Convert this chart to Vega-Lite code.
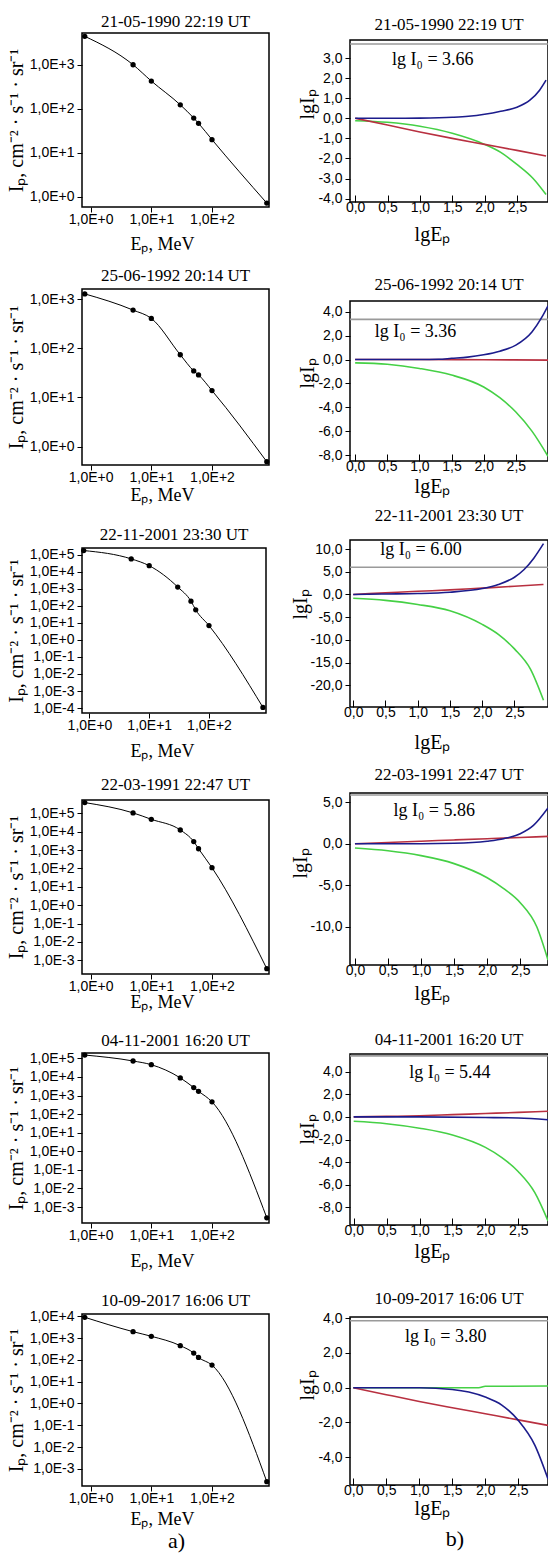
{
  "$schema": "https://vega.github.io/schema/vega-lite/v6.json",
  "padding": {"left": 5, "top": 0, "right": 0, "bottom": 0},
  "background": "white",
  "config": {
    "view": {"stroke": "black", "strokeWidth": 1.5},
    "axis": {"grid": false, "domain": false, "tickColor": "black", "labelFont": "Liberation Sans", "labelFontSize": 14, "labelColor": "black", "titleFont": "Liberation Serif", "titleFontWeight": "normal", "titleColor": "black", "titleFontSize": 18, "tickSize": 5, "labelPadding": 0, "labelOverlap": false, "labelFlush": false},
    "title": {"font": "Liberation Serif", "fontSize": 17, "fontWeight": "normal", "color": "black", "offset": 1},
    "concat": {"spacing": 10}
  },
  "datasets": {
    "D": [{"t": ""}],
    "L1": [{"E":0.8,"I":4416},{"E":5,"I":1000},{"E":10,"I":426.6},{"E":30,"I":123},{"E":50,"I":61.7},{"E":60,"I":46.8},{"E":100,"I":19.95},{"E":800,"I":0.724}],
    "L2": [{"E":0.8,"I":1288},{"E":5,"I":602.6},{"E":10,"I":407.4},{"E":30,"I":74.1},{"E":50,"I":34.7},{"E":60,"I":28.8},{"E":100,"I":13.8},{"E":800,"I":0.49}],
    "L3": [{"E":0.8,"I":173800},{"E":5,"I":56230},{"E":10,"I":22390},{"E":30,"I":1259},{"E":50,"I":186.2},{"E":60,"I":57.5},{"E":100,"I":6.92},{"E":800,"I":0.0001096}],
    "L4": [{"E":0.8,"I":380200},{"E":5,"I":104700},{"E":10,"I":46770},{"E":30,"I":12300},{"E":50,"I":2884},{"E":60,"I":1175},{"E":100,"I":109.6},{"E":800,"I":0.000355}],
    "L5": [{"E":0.8,"I":151400},{"E":5,"I":72440},{"E":10,"I":45710},{"E":30,"I":8913},{"E":50,"I":2692},{"E":60,"I":1698},{"E":100,"I":457.1},{"E":800,"I":0.000263}],
    "L6": [{"E":0.8,"I":8913},{"E":5,"I":1950},{"E":10,"I":1202},{"E":30,"I":446.7},{"E":50,"I":204.2},{"E":60,"I":128.8},{"E":100,"I":57.5},{"E":800,"I":0.000263}],
    "LA": [{"E":26,"I":5e-7,"label":"a)"}],
    "R1": [
      {"x":-0.08,"y":3.7,"c":"gray"},{"x":2.98,"y":3.7,"c":"gray"},
      {"x":0,"y":-0.12,"c":"green"},{"x":0.5,"y":-0.2,"c":"green"},{"x":1,"y":-0.4,"c":"green"},{"x":1.5,"y":-0.75,"c":"green"},{"x":2,"y":-1.3,"c":"green"},{"x":2.25,"y":-1.7,"c":"green"},{"x":2.5,"y":-2.3,"c":"green"},{"x":2.75,"y":-3.0,"c":"green"},{"x":2.95,"y":-3.8,"c":"green"},
      {"x":0,"y":0,"c":"red"},{"x":0.5,"y":-0.33,"c":"red"},{"x":1,"y":-0.68,"c":"red"},{"x":1.5,"y":-1.0,"c":"red"},{"x":2,"y":-1.3,"c":"red"},{"x":2.5,"y":-1.6,"c":"red"},{"x":2.95,"y":-1.88,"c":"red"},
      {"x":0,"y":0,"c":"blue"},{"x":0.5,"y":0,"c":"blue"},{"x":1,"y":0.01,"c":"blue"},{"x":1.5,"y":0.05,"c":"blue"},{"x":1.75,"y":0.1,"c":"blue"},{"x":2,"y":0.2,"c":"blue"},{"x":2.25,"y":0.35,"c":"blue"},{"x":2.5,"y":0.55,"c":"blue"},{"x":2.7,"y":0.9,"c":"blue"},{"x":2.85,"y":1.4,"c":"blue"},{"x":2.95,"y":1.9,"c":"blue"}
    ],
    "R2": [
      {"x":-0.08,"y":3.36,"c":"gray"},{"x":3.0,"y":3.36,"c":"gray"},
      {"x":0,"y":-0.28,"c":"green"},{"x":0.5,"y":-0.4,"c":"green"},{"x":1,"y":-0.75,"c":"green"},{"x":1.5,"y":-1.3,"c":"green"},{"x":2,"y":-2.3,"c":"green"},{"x":2.25,"y":-3.2,"c":"green"},{"x":2.5,"y":-4.4,"c":"green"},{"x":2.75,"y":-6.0,"c":"green"},{"x":3.0,"y":-8.1,"c":"green"},
      {"x":0,"y":0,"c":"red"},{"x":1,"y":0,"c":"red"},{"x":2,"y":-0.02,"c":"red"},{"x":3,"y":-0.05,"c":"red"},
      {"x":0,"y":0,"c":"blue"},{"x":0.5,"y":0,"c":"blue"},{"x":1,"y":0,"c":"blue"},{"x":1.3,"y":0.02,"c":"blue"},{"x":1.5,"y":0.1,"c":"blue"},{"x":1.75,"y":0.2,"c":"blue"},{"x":2,"y":0.4,"c":"blue"},{"x":2.25,"y":0.7,"c":"blue"},{"x":2.5,"y":1.2,"c":"blue"},{"x":2.75,"y":2.3,"c":"blue"},{"x":2.9,"y":3.5,"c":"blue"},{"x":3.0,"y":4.5,"c":"blue"}
    ],
    "R3": [
      {"x":-0.05,"y":6.0,"c":"gray"},{"x":3.02,"y":6.0,"c":"gray"},
      {"x":0,"y":-0.85,"c":"green"},{"x":0.5,"y":-1.3,"c":"green"},{"x":1,"y":-2.2,"c":"green"},{"x":1.5,"y":-3.6,"c":"green"},{"x":2,"y":-6.6,"c":"green"},{"x":2.25,"y":-8.8,"c":"green"},{"x":2.5,"y":-12,"c":"green"},{"x":2.75,"y":-16.5,"c":"green"},{"x":2.95,"y":-23.3,"c":"green"},
      {"x":0,"y":0,"c":"red"},{"x":0.5,"y":0.35,"c":"red"},{"x":1,"y":0.7,"c":"red"},{"x":1.5,"y":1.0,"c":"red"},{"x":2,"y":1.4,"c":"red"},{"x":2.5,"y":1.8,"c":"red"},{"x":2.95,"y":2.2,"c":"red"},
      {"x":0,"y":0,"c":"blue"},{"x":0.5,"y":0.1,"c":"blue"},{"x":1,"y":0.2,"c":"blue"},{"x":1.5,"y":0.5,"c":"blue"},{"x":2,"y":1.3,"c":"blue"},{"x":2.25,"y":2.2,"c":"blue"},{"x":2.5,"y":3.8,"c":"blue"},{"x":2.65,"y":5.5,"c":"blue"},{"x":2.8,"y":8.0,"c":"blue"},{"x":2.95,"y":11.2,"c":"blue"}
    ],
    "R4": [
      {"x":-0.075,"y":5.86,"c":"gray"},{"x":2.92,"y":5.86,"c":"gray"},
      {"x":0,"y":-0.52,"c":"green"},{"x":0.5,"y":-0.85,"c":"green"},{"x":1,"y":-1.44,"c":"green"},{"x":1.5,"y":-2.4,"c":"green"},{"x":2,"y":-4.1,"c":"green"},{"x":2.25,"y":-5.4,"c":"green"},{"x":2.5,"y":-7.1,"c":"green"},{"x":2.75,"y":-10.0,"c":"green"},{"x":2.92,"y":-14.0,"c":"green"},
      {"x":0,"y":0,"c":"red"},{"x":0.5,"y":0.15,"c":"red"},{"x":1,"y":0.3,"c":"red"},{"x":1.5,"y":0.45,"c":"red"},{"x":2,"y":0.6,"c":"red"},{"x":2.5,"y":0.75,"c":"red"},{"x":2.92,"y":0.88,"c":"red"},
      {"x":0,"y":0,"c":"blue"},{"x":1,"y":0,"c":"blue"},{"x":1.5,"y":0.05,"c":"blue"},{"x":2,"y":0.3,"c":"blue"},{"x":2.25,"y":0.6,"c":"blue"},{"x":2.5,"y":1.2,"c":"blue"},{"x":2.7,"y":2.2,"c":"blue"},{"x":2.92,"y":4.3,"c":"blue"}
    ],
    "R5": [
      {"x":-0.056,"y":5.4,"c":"gray"},{"x":2.95,"y":5.4,"c":"gray"},
      {"x":0,"y":-0.39,"c":"green"},{"x":0.5,"y":-0.6,"c":"green"},{"x":1,"y":-1.0,"c":"green"},{"x":1.5,"y":-1.6,"c":"green"},{"x":2,"y":-2.7,"c":"green"},{"x":2.25,"y":-3.6,"c":"green"},{"x":2.5,"y":-4.85,"c":"green"},{"x":2.75,"y":-6.7,"c":"green"},{"x":2.95,"y":-9.2,"c":"green"},
      {"x":0,"y":0,"c":"red"},{"x":0.5,"y":0.05,"c":"red"},{"x":1,"y":0.1,"c":"red"},{"x":1.5,"y":0.2,"c":"red"},{"x":2,"y":0.3,"c":"red"},{"x":2.5,"y":0.4,"c":"red"},{"x":2.95,"y":0.5,"c":"red"},
      {"x":0,"y":0,"c":"blue"},{"x":1,"y":0,"c":"blue"},{"x":2,"y":-0.05,"c":"blue"},{"x":2.5,"y":-0.1,"c":"blue"},{"x":2.95,"y":-0.25,"c":"blue"}
    ],
    "R6": [
      {"x":-0.05,"y":3.85,"c":"gray"},{"x":2.95,"y":3.85,"c":"gray"},
      {"x":0,"y":0,"c":"green"},{"x":1,"y":0,"c":"green"},{"x":1.9,"y":0,"c":"green"},{"x":2,"y":0.08,"c":"green"},{"x":2.95,"y":0.1,"c":"green"},
      {"x":0,"y":0,"c":"red"},{"x":0.5,"y":-0.4,"c":"red"},{"x":1,"y":-0.79,"c":"red"},{"x":1.5,"y":-1.15,"c":"red"},{"x":2,"y":-1.5,"c":"red"},{"x":2.5,"y":-1.85,"c":"red"},{"x":2.95,"y":-2.17,"c":"red"},
      {"x":0,"y":0,"c":"blue"},{"x":1,"y":0,"c":"blue"},{"x":1.5,"y":-0.1,"c":"blue"},{"x":1.75,"y":-0.25,"c":"blue"},{"x":2,"y":-0.54,"c":"blue"},{"x":2.25,"y":-1.0,"c":"blue"},{"x":2.5,"y":-1.88,"c":"blue"},{"x":2.75,"y":-3.3,"c":"blue"},{"x":2.95,"y":-5.25,"c":"blue"}
    ],
    "T1": [{"x":1.2,"y":2.9,"label":"lg I₀ = 3.66"}],
    "T2": [{"x":0.94,"y":2.3,"label":"lg I₀ = 3.36"}],
    "T3": [{"x":1.05,"y":9.8,"label":"lg I₀ = 6.00"}],
    "T4": [{"x":1.2,"y":3.9,"label":"lg I₀ = 5.86"}],
    "T5": [{"x":1.46,"y":3.9,"label":"lg I₀ = 5.44"}],
    "T6": [{"x":1.4,"y":2.9,"label":"lg I₀ = 3.80"}],
    "TB": [{"x":1.54,"y":-8.7,"label":"b)"}]
  },
  "concat": [
    {
      "spacing": 0,
      "vconcat": [
        {"width": 187, "height": 1, "view": {"stroke": null}, "data": {"name": "D"}, "mark": {"type": "text"}, "encoding": {"text": {"field": "t"}}},
        {
          "spacing": 12,
          "vconcat": [
            {
              "width": 187, "height": 174,
              "title": {"text": "21-05-1990   22:19 UT", "offset": 2},
              "data": {"name": "L1"},
              "encoding": {
                "x": {"field": "E", "type": "quantitative", "scale": {"type": "log", "domain": [0.72, 870]}, "axis": {"values": [1, 10, 100], "labelExpr": "'1,0E+' + round(log(datum.value)/LN10)", "title": "Eₚ,  MeV", "titlePadding": 9, "titleX": 80}},
                "y": {"field": "I", "type": "quantitative", "scale": {"type": "log", "domain": [0.59, 5250]}, "axis": {"values": [1, 10, 100, 1000], "labelExpr": "'1,0E' + (round(log(datum.value)/LN10) >= 0 ? '+' : '') + round(log(datum.value)/LN10)", "title": "Iₚ,  cm⁻² · s⁻¹ · sr⁻¹", "titleFontSize": 20, "titlePadding": 3, "labelPadding": 3}}
              },
              "layer": [
                {"mark": {"type": "line", "color": "black", "strokeWidth": 1, "interpolate": "monotone"}},
                {"mark": {"type": "point", "filled": true, "color": "black", "size": 28, "opacity": 1}}
              ]
            },
            {
              "spacing": 19,
              "vconcat": [
                {
                  "width": 187, "height": 176,
                  "title": {"text": "25-06-1992   20:14 UT", "offset": 4},
                  "data": {"name": "L2"},
                  "encoding": {
                    "x": {"field": "E", "type": "quantitative", "scale": {"type": "log", "domain": [0.72, 870]}, "axis": {"values": [1, 10, 100], "labelExpr": "'1,0E+' + round(log(datum.value)/LN10)", "title": "Eₚ,  MeV", "titlePadding": 2, "titleX": 80}},
                    "y": {"field": "I", "type": "quantitative", "scale": {"type": "log", "domain": [0.42, 1620]}, "axis": {"values": [1, 10, 100, 1000], "labelExpr": "'1,0E' + (round(log(datum.value)/LN10) >= 0 ? '+' : '') + round(log(datum.value)/LN10)", "title": "Iₚ,  cm⁻² · s⁻¹ · sr⁻¹", "titleFontSize": 20, "titlePadding": 3, "labelPadding": 3}}
                  },
                  "layer": [
                    {"mark": {"type": "line", "color": "black", "strokeWidth": 1, "interpolate": "monotone"}},
                    {"mark": {"type": "point", "filled": true, "color": "black", "size": 28, "opacity": 1}}
                  ]
                },
                {
                  "spacing": 14,
                  "vconcat": [
                    {
                      "width": 184, "height": 165,
                      "title": {"text": "22-11-2001   23:30 UT", "offset": 4},
                      "data": {"name": "L3"},
                      "encoding": {
                        "x": {"field": "E", "type": "quantitative", "scale": {"type": "log", "domain": [0.75, 900]}, "axis": {"values": [1, 10, 100], "labelExpr": "'1,0E+' + round(log(datum.value)/LN10)", "title": "Eₚ,  MeV", "titlePadding": 10, "titleX": 80}},
                        "y": {"field": "I", "type": "quantitative", "scale": {"type": "log", "domain": [0.0000513, 245000]}, "axis": {"values": [0.0001, 0.001, 0.01, 0.1, 1, 10, 100, 1000, 10000, 100000], "labelExpr": "'1,0E' + (round(log(datum.value)/LN10) >= 0 ? '+' : '') + round(log(datum.value)/LN10)", "title": "Iₚ,  cm⁻² · s⁻¹ · sr⁻¹", "titleFontSize": 20, "titlePadding": 3, "labelPadding": 3}}
                      },
                      "layer": [
                        {"mark": {"type": "line", "color": "black", "strokeWidth": 1, "interpolate": "monotone"}},
                        {"mark": {"type": "point", "filled": true, "color": "black", "size": 28, "opacity": 1}}
                      ]
                    },
                    {
                      "spacing": 19,
                      "vconcat": [
                        {
                          "width": 187, "height": 174,
                          "title": {"text": "22-03-1991   22:47 UT", "offset": 6},
                          "data": {"name": "L4"},
                          "encoding": {
                            "x": {"field": "E", "type": "quantitative", "scale": {"type": "log", "domain": [0.72, 870]}, "axis": {"values": [1, 10, 100], "labelExpr": "'1,0E+' + round(log(datum.value)/LN10)", "title": "Eₚ,  MeV", "titlePadding": 0, "titleX": 80}},
                            "y": {"field": "I", "type": "quantitative", "scale": {"type": "log", "domain": [0.000182, 525000]}, "axis": {"values": [0.001, 0.01, 0.1, 1, 10, 100, 1000, 10000, 100000], "labelExpr": "'1,0E' + (round(log(datum.value)/LN10) >= 0 ? '+' : '') + round(log(datum.value)/LN10)", "title": "Iₚ,  cm⁻² · s⁻¹ · sr⁻¹", "titleFontSize": 20, "titlePadding": 3, "labelPadding": 3}}
                          },
                          "layer": [
                            {"mark": {"type": "line", "color": "black", "strokeWidth": 1, "interpolate": "monotone"}},
                            {"mark": {"type": "point", "filled": true, "color": "black", "size": 28, "opacity": 1}}
                          ]
                        },
                        {
                          "spacing": 20,
                          "vconcat": [
                            {
                              "width": 187, "height": 170,
                              "title": {"text": "04-11-2001   16:20 UT", "offset": 1},
                              "data": {"name": "L5"},
                              "encoding": {
                                "x": {"field": "E", "type": "quantitative", "scale": {"type": "log", "domain": [0.72, 870]}, "axis": {"values": [1, 10, 100], "labelExpr": "'1,0E+' + round(log(datum.value)/LN10)", "title": "Eₚ,  MeV", "titlePadding": 10, "titleX": 80}},
                                "y": {"field": "I", "type": "quantitative", "scale": {"type": "log", "domain": [0.000138, 195000]}, "axis": {"values": [0.001, 0.01, 0.1, 1, 10, 100, 1000, 10000, 100000], "labelExpr": "'1,0E' + (round(log(datum.value)/LN10) >= 0 ? '+' : '') + round(log(datum.value)/LN10)", "title": "Iₚ,  cm⁻² · s⁻¹ · sr⁻¹", "titleFontSize": 20, "titlePadding": 3, "labelPadding": 3}}
                              },
                              "layer": [
                                {"mark": {"type": "line", "color": "black", "strokeWidth": 1, "interpolate": "monotone"}},
                                {"mark": {"type": "point", "filled": true, "color": "black", "size": 28, "opacity": 1}}
                              ]
                            },
                            {
                              "width": 187, "height": 172,
                              "title": {"text": "10-09-2017   16:06 UT", "offset": -1},
                              "encoding": {
                                "x": {"field": "E", "type": "quantitative", "scale": {"type": "log", "domain": [0.72, 870]}, "axis": {"values": [1, 10, 100], "labelExpr": "'1,0E+' + round(log(datum.value)/LN10)", "title": "Eₚ,  MeV", "titlePadding": 5, "titleX": 80}},
                                "y": {"field": "I", "type": "quantitative", "scale": {"type": "log", "domain": [0.000166, 12600]}, "axis": {"values": [0.001, 0.01, 0.1, 1, 10, 100, 1000, 10000], "labelExpr": "'1,0E' + (round(log(datum.value)/LN10) >= 0 ? '+' : '') + round(log(datum.value)/LN10)", "title": "Iₚ,  cm⁻² · s⁻¹ · sr⁻¹", "titleFontSize": 20, "titlePadding": 3, "labelPadding": 3}}
                              },
                              "layer": [
                                {"data": {"name": "L6"}, "mark": {"type": "line", "color": "black", "strokeWidth": 1, "interpolate": "monotone"}},
                                {"data": {"name": "L6"}, "mark": {"type": "point", "filled": true, "color": "black", "size": 28, "opacity": 1}},
                                {"data": {"name": "LA"}, "mark": {"type": "text", "font": "Liberation Serif", "fontSize": 22, "color": "black"}, "encoding": {"text": {"field": "label"}}}
                              ]
                            }
                          ]
                        }
                      ]
                    }
                  ]
                }
              ]
            }
          ]
        }
      ]
    },
    {
      "spacing": 0,
      "vconcat": [
        {"width": 198, "height": 7, "view": {"stroke": null}, "data": {"name": "D"}, "mark": {"type": "text"}, "encoding": {"text": {"field": "t"}}},
        {
          "spacing": 30,
          "vconcat": [
            {
              "width": 198, "height": 162,
              "title": {"text": "21-05-1990   22:19 UT", "offset": 6},
              "encoding": {
                "x": {"field": "x", "type": "quantitative", "scale": {"domain": [-0.08, 2.98], "nice": false, "zero": false}, "axis": {"values": [0, 0.5, 1, 1.5, 2, 2.5], "labelExpr": "replace(format(datum.value,'.1f'),'.',',')", "title": "lgEₚ", "titleFontSize": 20, "tickSize": -7, "labelPadding": 5, "titlePadding": 10, "titleX": 82}},
                "y": {"field": "y", "type": "quantitative", "scale": {"domain": [-4.17, 3.9], "nice": false, "zero": false}, "axis": {"values": [-4, -3, -2, -1, 0, 1, 2, 3], "labelExpr": "(datum.value < 0 ? '-' : '') + replace(format(abs(datum.value),'.1f'),'.',',')", "title": "lgIₚ", "titleFontSize": 20, "titlePadding": 0, "labelPadding": 3, "titleY": 64}}
              },
              "layer": [
                {"data": {"name": "R1"}, "mark": {"type": "line", "strokeWidth": 1.6, "interpolate": "monotone"}, "encoding": {"color": {"field": "c", "type": "nominal", "scale": {"domain": ["gray", "green", "red", "blue"], "range": ["#9a9a9a", "#45d045", "#b83040", "#1c1c8c"]}, "legend": null}}},
                {"data": {"name": "T1"}, "mark": {"type": "text", "font": "Liberation Serif", "fontSize": 18, "color": "black"}, "encoding": {"text": {"field": "label"}}}
              ]
            },
            {
              "spacing": 9,
              "vconcat": [
                {
                  "width": 198, "height": 160,
                  "title": {"text": "25-06-1992   20:14 UT", "offset": 7},
                  "encoding": {
                    "x": {"field": "x", "type": "quantitative", "scale": {"domain": [-0.08, 3.0], "nice": false, "zero": false}, "axis": {"values": [0, 0.5, 1, 1.5, 2, 2.5], "labelExpr": "replace(format(datum.value,'.1f'),'.',',')", "title": "lgEₚ", "titleFontSize": 20, "tickSize": -7, "labelPadding": 5, "titlePadding": 3, "titleX": 82}},
                    "y": {"field": "y", "type": "quantitative", "scale": {"domain": [-8.5, 4.9], "nice": false, "zero": false}, "axis": {"values": [-8, -6, -4, -2, 0, 2, 4], "labelExpr": "(datum.value < 0 ? '-' : '') + replace(format(abs(datum.value),'.1f'),'.',',')", "title": "lgIₚ", "titleFontSize": 20, "titlePadding": 0, "labelPadding": 3, "titleY": 72}}
                  },
                  "layer": [
                    {"data": {"name": "R2"}, "mark": {"type": "line", "strokeWidth": 1.6, "interpolate": "monotone"}, "encoding": {"color": {"field": "c", "type": "nominal", "scale": {"domain": ["gray", "green", "red", "blue"], "range": ["#9a9a9a", "#45d045", "#b83040", "#1c1c8c"]}, "legend": null}}},
                    {"data": {"name": "T2"}, "mark": {"type": "text", "font": "Liberation Serif", "fontSize": 18, "color": "black"}, "encoding": {"text": {"field": "label"}}}
                  ]
                },
                {
                  "spacing": 12,
                  "vconcat": [
                    {
                      "width": 198, "height": 167,
                      "title": {"text": "22-11-2001   23:30 UT", "offset": 15},
                      "encoding": {
                        "x": {"field": "x", "type": "quantitative", "scale": {"domain": [-0.05, 3.02], "nice": false, "zero": false}, "axis": {"values": [0, 0.5, 1, 1.5, 2, 2.5], "labelExpr": "replace(format(datum.value,'.1f'),'.',',')", "title": "lgEₚ", "titleFontSize": 20, "tickSize": -7, "labelPadding": 5, "titlePadding": 13, "titleX": 82}},
                        "y": {"field": "y", "type": "quantitative", "scale": {"domain": [-24.8, 12], "nice": false, "zero": false}, "axis": {"values": [-20, -15, -10, -5, 0, 5, 10], "labelExpr": "(datum.value < 0 ? '-' : '') + replace(format(abs(datum.value),'.1f'),'.',',')", "title": "lgIₚ", "titleFontSize": 20, "titlePadding": 0, "labelPadding": 3, "titleY": 64}}
                      },
                      "layer": [
                        {"data": {"name": "R3"}, "mark": {"type": "line", "strokeWidth": 1.6, "interpolate": "monotone"}, "encoding": {"color": {"field": "c", "type": "nominal", "scale": {"domain": ["gray", "green", "red", "blue"], "range": ["#9a9a9a", "#45d045", "#b83040", "#1c1c8c"]}, "legend": null}}},
                        {"data": {"name": "T3"}, "mark": {"type": "text", "font": "Liberation Serif", "fontSize": 18, "color": "black"}, "encoding": {"text": {"field": "label"}}}
                      ]
                    },
                    {
                      "spacing": 25,
                      "vconcat": [
                        {
                          "width": 198, "height": 172,
                          "title": {"text": "22-03-1991   22:47 UT", "offset": 8},
                          "encoding": {
                            "x": {"field": "x", "type": "quantitative", "scale": {"domain": [-0.075, 2.92], "nice": false, "zero": false}, "axis": {"values": [0, 0.5, 1, 1.5, 2, 2.5], "labelExpr": "replace(format(datum.value,'.1f'),'.',',')", "title": "lgEₚ", "titleFontSize": 20, "tickSize": -7, "labelPadding": 5, "titlePadding": 6, "titleX": 82}},
                            "y": {"field": "y", "type": "quantitative", "scale": {"domain": [-14.6, 6.1], "nice": false, "zero": false}, "axis": {"values": [-10, -5, 0, 5], "labelExpr": "(datum.value < 0 ? '-' : '') + replace(format(abs(datum.value),'.1f'),'.',',')", "title": "lgIₚ", "titleFontSize": 20, "titlePadding": 0, "labelPadding": 3, "titleY": 70}}
                          },
                          "layer": [
                            {"data": {"name": "R4"}, "mark": {"type": "line", "strokeWidth": 1.6, "interpolate": "monotone"}, "encoding": {"color": {"field": "c", "type": "nominal", "scale": {"domain": ["gray", "green", "red", "blue"], "range": ["#9a9a9a", "#45d045", "#b83040", "#1c1c8c"]}, "legend": null}}},
                            {"data": {"name": "T4"}, "mark": {"type": "text", "font": "Liberation Serif", "fontSize": 18, "color": "black"}, "encoding": {"text": {"field": "label"}}}
                          ]
                        },
                        {
                          "spacing": 27,
                          "vconcat": [
                            {
                              "width": 198, "height": 171,
                              "title": {"text": "04-11-2001   16:20 UT", "offset": 4},
                              "encoding": {
                                "x": {"field": "x", "type": "quantitative", "scale": {"domain": [-0.056, 2.95], "nice": false, "zero": false}, "axis": {"values": [0, 0.5, 1, 1.5, 2, 2.5], "labelExpr": "replace(format(datum.value,'.1f'),'.',',')", "title": "lgEₚ", "titleFontSize": 20, "tickSize": -7, "labelPadding": 5, "titlePadding": 4, "titleX": 82}},
                                "y": {"field": "y", "type": "quantitative", "scale": {"domain": [-9.57, 5.57], "nice": false, "zero": false}, "axis": {"values": [-8, -6, -4, -2, 0, 2, 4], "labelExpr": "(datum.value < 0 ? '-' : '') + replace(format(abs(datum.value),'.1f'),'.',',')", "title": "lgIₚ", "titleFontSize": 20, "titlePadding": 0, "labelPadding": 3, "titleY": 75}}
                              },
                              "layer": [
                                {"data": {"name": "R5"}, "mark": {"type": "line", "strokeWidth": 1.6, "interpolate": "monotone"}, "encoding": {"color": {"field": "c", "type": "nominal", "scale": {"domain": ["gray", "green", "red", "blue"], "range": ["#9a9a9a", "#45d045", "#b83040", "#1c1c8c"]}, "legend": null}}},
                                {"data": {"name": "T5"}, "mark": {"type": "text", "font": "Liberation Serif", "fontSize": 18, "color": "black"}, "encoding": {"text": {"field": "label"}}}
                              ]
                            },
                            {
                              "width": 198, "height": 168,
                              "title": {"text": "10-09-2017   16:06 UT", "offset": 3},
                              "encoding": {
                                "x": {"field": "x", "type": "quantitative", "scale": {"domain": [-0.05, 2.95], "nice": false, "zero": false}, "axis": {"values": [0, 0.5, 1, 1.5, 2, 2.5], "labelExpr": "replace(format(datum.value,'.1f'),'.',',')", "title": "lgEₚ", "titleFontSize": 20, "tickSize": -7, "labelPadding": 5, "titlePadding": 1, "titleX": 82}},
                                "y": {"field": "y", "type": "quantitative", "scale": {"domain": [-5.6, 4.07], "nice": false, "zero": false}, "axis": {"values": [-4, -2, 0, 2, 4], "labelExpr": "(datum.value < 0 ? '-' : '') + replace(format(abs(datum.value),'.1f'),'.',',')", "title": "lgIₚ", "titleFontSize": 20, "titlePadding": 0, "labelPadding": 3, "titleY": 68}}
                              },
                              "layer": [
                                {"data": {"name": "R6"}, "mark": {"type": "line", "strokeWidth": 1.6, "interpolate": "monotone"}, "encoding": {"color": {"field": "c", "type": "nominal", "scale": {"domain": ["gray", "green", "red", "blue"], "range": ["#9a9a9a", "#45d045", "#b83040", "#1c1c8c"]}, "legend": null}}},
                                {"data": {"name": "T6"}, "mark": {"type": "text", "font": "Liberation Serif", "fontSize": 18, "color": "black"}, "encoding": {"text": {"field": "label"}}},
                                {"data": {"name": "TB"}, "mark": {"type": "text", "font": "Liberation Serif", "fontSize": 22, "color": "black"}, "encoding": {"text": {"field": "label"}}}
                              ]
                            }
                          ]
                        }
                      ]
                    }
                  ]
                }
              ]
            }
          ]
        }
      ]
    }
  ],
  "columns": 2,
  "align": "none",
  "spacing": 18
}
